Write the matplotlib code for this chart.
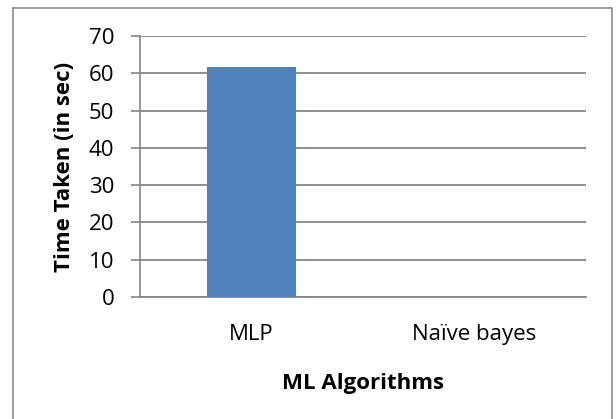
import matplotlib.pyplot as plt
from matplotlib.patches import Rectangle

algorithms = ['MLP', 'Naïve bayes']
time_taken = [61.7, 0.05]
y_ticks = [0, 10, 20, 30, 40, 50, 60, 70]

plt.rcParams['font.family'] = ['Open Sans', 'DejaVu Sans']

fig = plt.figure(figsize=(6.16, 4.19), dpi=100)
ax = fig.add_axes([0.227, 0.291, 0.724, 0.623])

# outer chart border like the Excel chart area
fig.patches.append(Rectangle((13 / 616, -0.05), 599 / 616, 1.05 - 8 / 419,
                             transform=fig.transFigure, fill=False,
                             edgecolor='#8c8c8c', linewidth=1.2))

ax.bar(range(len(algorithms)), time_taken, width=0.4, color='#4f81bd', zorder=3)

ax.set_xlim(-0.5, 1.5)
ax.set_ylim(0, 70)
ax.set_yticks(y_ticks)
ax.set_xticks(range(len(algorithms)))
ax.set_xticklabels(algorithms, fontsize=16)
ax.tick_params(axis='y', labelsize=16, length=6.5, width=1.2, color='#868686', pad=12)
ax.tick_params(axis='x', length=0, pad=19.5)

ax.grid(axis='y', color='#868686', linewidth=1.3, zorder=0)
for s in ['top', 'right']:
    ax.spines[s].set_visible(False)
ax.spines['left'].set_color('#868686')
ax.spines['left'].set_linewidth(1.2)
ax.spines['bottom'].set_color('#868686')
ax.spines['bottom'].set_linewidth(1.3)

ax.set_xlabel('ML Algorithms', fontsize=16, fontweight='bold')
ax.set_ylabel('Time Taken (in sec)', fontsize=16, fontweight='bold')
ax.xaxis.set_label_coords(0.5, -0.29)
ax.yaxis.set_label_coords(-0.146, 0.5)

fig.savefig('out.png', dpi=100)
